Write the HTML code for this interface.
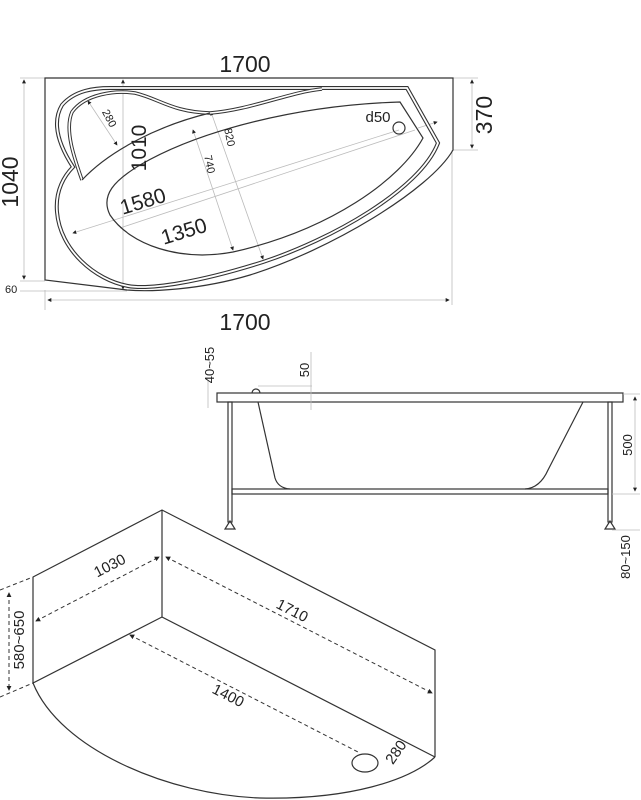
<!DOCTYPE html>
<html><head><meta charset="utf-8"><style>
html,body{margin:0;padding:0;background:#fff}
svg{display:block}
text{font-family:"Liberation Sans",sans-serif;fill:#222}
</style></head><body>
<svg width="641" height="800" viewBox="0 0 641 800" xmlns="http://www.w3.org/2000/svg">
<defs>
<marker id="a" viewBox="0 0 6 6" refX="5" refY="3" markerWidth="5" markerHeight="5" orient="auto-start-reverse"><path d="M0,0L6,3L0,6z" fill="#222"/></marker>
</defs>
<!-- TOP VIEW -->
<g fill="none" stroke="#bbb" stroke-width="0.8">
<line x1="20" y1="78" x2="45" y2="78"/><line x1="20" y1="281" x2="45" y2="281"/><line x1="20" y1="291" x2="127" y2="291"/>
<line x1="24" y1="80" x2="24" y2="279" marker-start="url(#a)" marker-end="url(#a)"/>
<line x1="45" y1="290" x2="45" y2="310"/><line x1="452" y1="150" x2="452" y2="305"/>
<line x1="48" y1="300" x2="449" y2="300" marker-start="url(#a)" marker-end="url(#a)"/>
<line x1="453" y1="78" x2="478" y2="78"/><line x1="453" y1="150" x2="478" y2="150"/>
<line x1="472" y1="80" x2="472" y2="148" marker-start="url(#a)" marker-end="url(#a)"/>
<line x1="123" y1="80" x2="123" y2="289" marker-start="url(#a)" marker-end="url(#a)"/>
<line x1="73" y1="233" x2="399" y2="130" marker-start="url(#a)"/>
<line x1="120" y1="228" x2="415" y2="130" />
<line x1="88" y1="101" x2="117" y2="145" marker-start="url(#a)" marker-end="url(#a)"/>
<line x1="211" y1="112" x2="263" y2="259" marker-start="url(#a)" marker-end="url(#a)"/>
<line x1="193" y1="130" x2="233" y2="250" marker-start="url(#a)" marker-end="url(#a)"/>
<line x1="418" y1="128" x2="437" y2="122" marker-end="url(#a)"/>
</g>
<path d="M45,78H453V150C430,190 330,250 250,275C200,290 150,292 127,290L45,280Z" fill="none" stroke="#333" stroke-width="1.2"/>
<g fill="none">
<path id="rim" d="M110,88H407L438,143C420,190 330,240 263,262C200,282 150,290 128,286C95,280 60,250 57,212C55,190 65,175 73,167C62,150 50,125 62,105C75,90 95,88 110,88Z" stroke="#333" stroke-width="4"/>
<path d="M110,88H407L438,143C420,190 330,240 263,262C200,282 150,290 128,286C95,280 60,250 57,212C55,190 65,175 73,167C62,150 50,125 62,105C75,90 95,88 110,88Z" stroke="#fff" stroke-width="1.8"/>
<path d="M82,180C75,160 64,130 72,112C85,94 115,90 135,93C160,99 172,112 210,113C250,110 290,92 322,89" stroke="#333" stroke-width="3.6"/>
<path d="M82,180C75,160 64,130 72,112C85,94 115,90 135,93C160,99 172,112 210,113C250,110 290,92 322,89" stroke="#fff" stroke-width="1.6"/>
<path d="M82,180C110,150 160,125 210,113" stroke="#333" stroke-width="1.2"/>
<path d="M400,102L423,138C400,180 330,230 233,252C180,262 130,245 110,215C100,195 115,180 140,165C200,130 300,105 400,102Z" stroke="#333" stroke-width="1.2"/>
<circle cx="399" cy="128" r="6" stroke="#333" stroke-width="1.2"/>
</g>
<text x="245" y="72" font-size="23" text-anchor="middle">1700</text>
<text x="245" y="330" font-size="23" text-anchor="middle">1700</text>
<text transform="translate(18,182) rotate(-90)" font-size="23" text-anchor="middle">1040</text>
<text transform="translate(492,115) rotate(-90)" font-size="23" text-anchor="middle">370</text>
<text x="5" y="293" font-size="11">60</text>
<text transform="translate(146,148) rotate(-90)" font-size="21" text-anchor="middle">1010</text>
<text transform="translate(145,208) rotate(-17)" font-size="21" text-anchor="middle">1580</text>
<text transform="translate(186,238) rotate(-17)" font-size="21" text-anchor="middle">1350</text>
<text transform="translate(106,120) rotate(62)" font-size="11" text-anchor="middle">280</text>
<text transform="translate(226,138) rotate(78)" font-size="11" text-anchor="middle">820</text>
<text transform="translate(206,165) rotate(78)" font-size="11" text-anchor="middle">740</text>
<text x="378" y="122" font-size="15" text-anchor="middle">d50</text>

<!-- SIDE VIEW -->
<g fill="none" stroke="#333" stroke-width="1.2">
<rect x="217" y="393" width="406" height="9"/>
<path d="M252,393A4,4 0 0 1 260,393"/>
<path d="M258,402L275,478Q278,488 290,489"/>
<path d="M583,402L548,470Q540,488 525,489"/>
<rect x="228" y="402" width="4" height="120"/><rect x="608" y="402" width="4" height="120"/>
<rect x="232" y="489" width="376" height="5"/>
<path d="M230,521L225,529H235Z"/><path d="M610,521L605,529H615Z"/>
</g>
<g stroke="#bbb" stroke-width="0.8" fill="none">
<line x1="258" y1="386" x2="312" y2="386"/><line x1="311" y1="352" x2="311" y2="410"/>
<line x1="623" y1="394" x2="640" y2="394"/><line x1="612" y1="494" x2="640" y2="494"/><line x1="612" y1="530" x2="640" y2="530"/>
<line x1="635" y1="397" x2="635" y2="491" marker-start="url(#a)" marker-end="url(#a)"/>
<line x1="208" y1="380" x2="208" y2="408"/>
</g>
<text transform="translate(214,365) rotate(-90)" font-size="13" text-anchor="middle">40~55</text>
<text transform="translate(309,370) rotate(-90)" font-size="13" text-anchor="middle">50</text>
<text transform="translate(632,445) rotate(-90)" font-size="13" text-anchor="middle">500</text>
<text transform="translate(630,557) rotate(-90)" font-size="13" text-anchor="middle">80~150</text>

<!-- ISO VIEW -->
<g fill="none" stroke="#333" stroke-width="1.2">
<path d="M33,577L162,510L435,650V757"/>
<path d="M162,510V617L435,757"/>
<path d="M33,577V683L162,617"/>
<path d="M33,683C60,750 170,795 260,798C350,800 410,780 435,757"/>
<ellipse cx="365" cy="763" rx="13" ry="9"/>
</g>
<g fill="none" stroke="#333" stroke-width="1" stroke-dasharray="4,3">
<line x1="36" y1="621" x2="159" y2="557" marker-start="url(#a)" marker-end="url(#a)"/>
<line x1="166" y1="557" x2="432" y2="693" marker-start="url(#a)" marker-end="url(#a)"/>
<line x1="130" y1="635" x2="358" y2="752" marker-start="url(#a)"/>
<line x1="9" y1="593" x2="9" y2="690" marker-start="url(#a)" marker-end="url(#a)"/>
<line x1="0" y1="590" x2="33" y2="577"/><line x1="0" y1="697" x2="33" y2="683"/>
</g>
<text transform="translate(112,570) rotate(-27)" font-size="15" text-anchor="middle">1030</text>
<text transform="translate(290,615) rotate(27)" font-size="15" text-anchor="middle">1710</text>
<text transform="translate(226,700) rotate(27)" font-size="15" text-anchor="middle">1400</text>
<text transform="translate(24,640) rotate(-90)" font-size="15" text-anchor="middle">580~650</text>
<text transform="translate(400,755) rotate(-55)" font-size="15" text-anchor="middle">280</text>
</svg>
</body></html>
